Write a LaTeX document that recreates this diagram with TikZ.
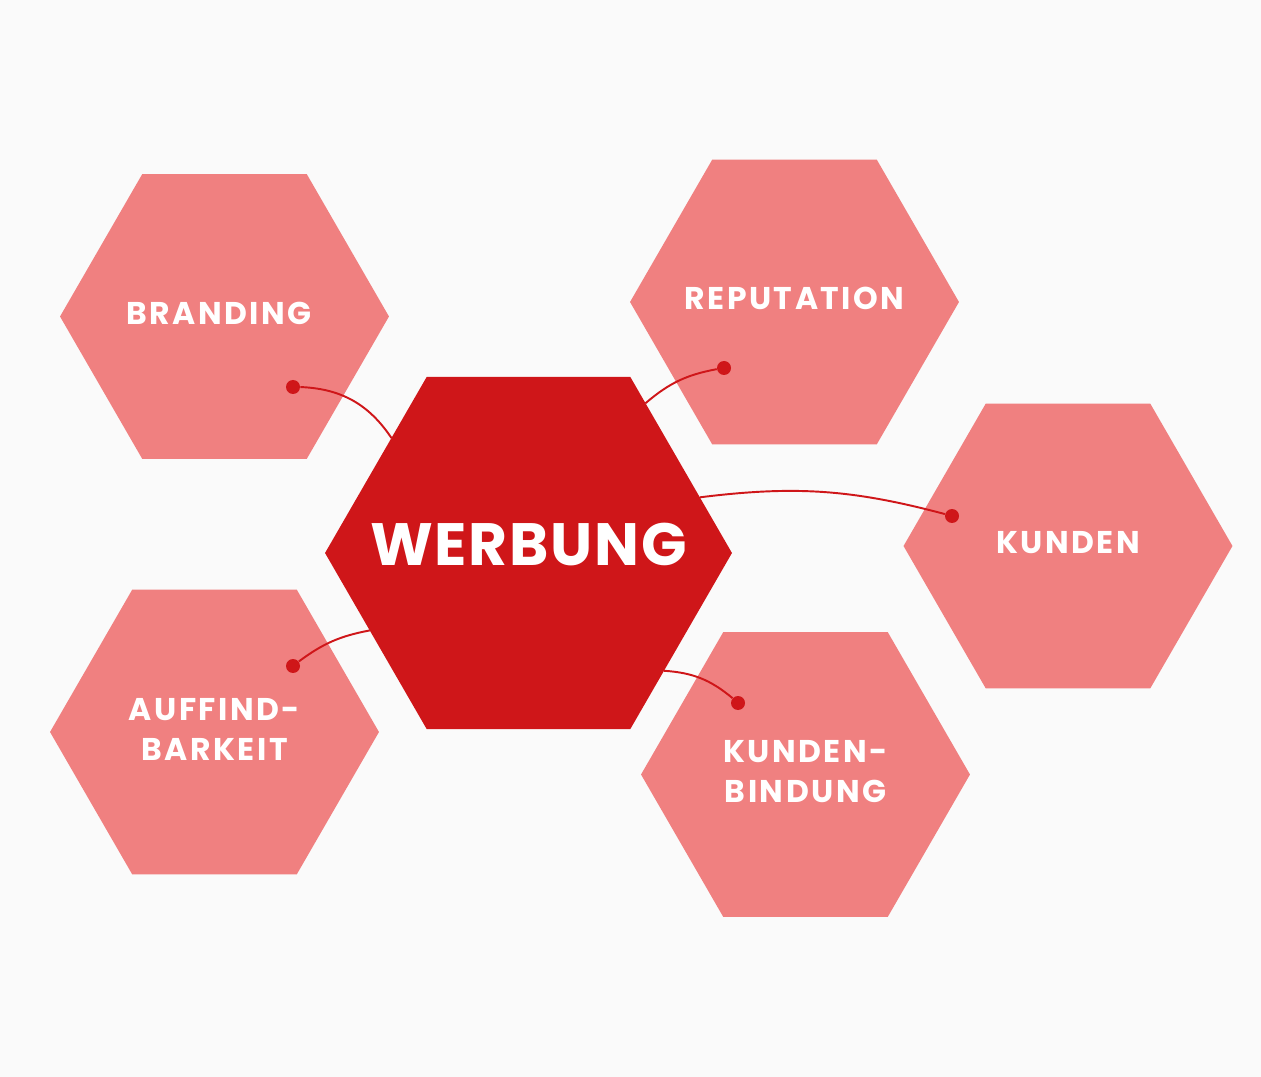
\documentclass[tikz,border=0pt]{standalone}
\usepackage{fontspec}
\setmainfont{Poppins}
\newfontfamily\labelfont{Poppins}[LetterSpace=8]
\newfontfamily\titlefont{Poppins}[LetterSpace=3]
\usepackage{tikz}
\usetikzlibrary{shapes.geometric, positioning}

\definecolor{hexlight}{HTML}{F08080}
\definecolor{hexdark}{HTML}{CF1619}
\definecolor{bggray}{HTML}{FAFAFA}

\begin{document}
\begin{tikzpicture}[
    x=0.02cm, y=-0.02cm,
    hexbox/.style={regular polygon, regular polygon sides=6, draw=none, fill=hexlight, minimum size=6.58cm, inner sep=0pt, outer sep=0pt},
    mainhex/.style={hexbox, fill=hexdark, minimum size=8.14cm},
    hextext/.style={text=white, align=center, inner sep=0pt, yshift=0.06cm, font=\labelfont\fontsize{17.9}{22.8}\selectfont\bfseries},
    maintext/.style={text=white, inner sep=0pt, yshift=0.17cm, font=\titlefont\fontsize{34}{40}\selectfont\bfseries},
    link_dot/.style={circle, fill=hexdark, inner sep=0pt, minimum size=0.28cm},
    link/.style={draw=hexdark, line width=1.1pt},
    ]
    % background and page size
    \fill[bggray] (0,0) rectangle (1261,1077);
    \useasboundingbox (0,0) rectangle (1261,1077);

    % outer hexagons
    \node[hexbox, label={[hextext, xshift=-0.11cm]center:BRANDING}] (branding) at (224.5,316.5) {};
    \node[hexbox, label={[hextext, yshift=0.02cm]center:REPUTATION}] (reputation) at (794.5,302) {};
    \node[hexbox, label={[hextext]center:KUNDEN}] (kunden) at (1068,546) {};
    \node[hexbox, label={[hextext]center:{AUFFIND-\\BARKEIT}}] (auffind) at (214.5,732) {};
    \node[hexbox, label={[hextext]center:{KUNDEN-\\BINDUNG}}] (bindung) at (805.5,774.5) {};

    % central hexagon
    \node[mainhex, label={[maintext]center:WERBUNG}] (werbung) at (528.5,553) {};

    % dots inside the outer hexagons
    \node[link_dot] (dot_branding) at (293,387) {};
    \node[link_dot] (dot_reputation) at (724,368) {};
    \node[link_dot] (dot_kunden) at (952,516) {};
    \node[link_dot] (dot_auffind) at (293,666) {};
    \node[link_dot] (dot_bindung) at (738,703) {};

    % curved links to the border of the central hexagon
    \draw[link] (dot_branding) to[bend left=27] (werbung.140);
    \draw[link] (dot_reputation) to[bend right=15] (werbung.52.9);
    \draw[link] (dot_kunden) to[bend right=11] (werbung.18.5);
    \draw[link] (dot_auffind) to[bend left=13] (werbung.206.9);
    \draw[link] (dot_bindung) to[bend right=18] (werbung.319.3);
\end{tikzpicture}
\end{document}
